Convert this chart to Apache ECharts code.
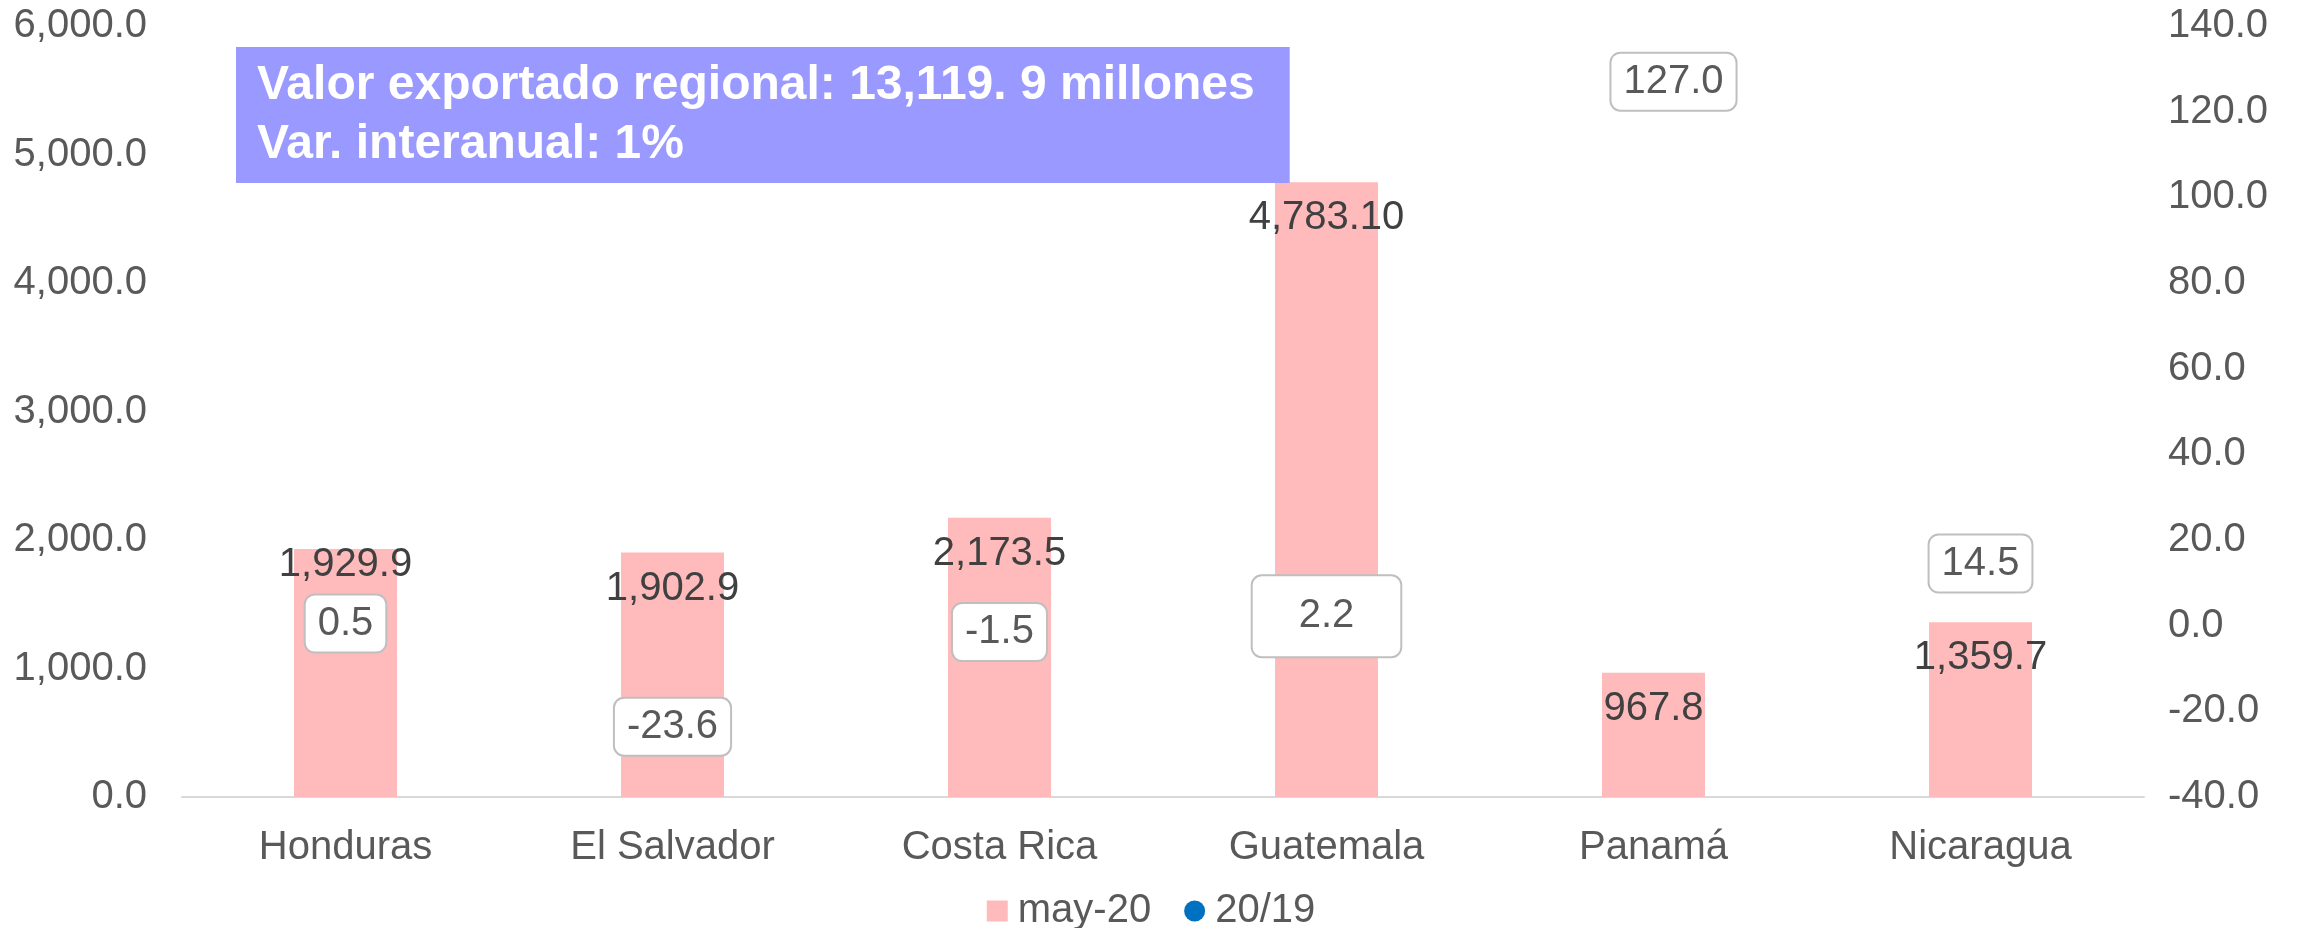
<!DOCTYPE html>
<html>
<head>
<meta charset="utf-8">
<script src="https://cdn.jsdelivr.net/npm/echarts@6/dist/echarts.min.js"></script>
<style>
  html, body { margin: 0; padding: 0; background: #fff; }
  #chart { width: 2302px; height: 928px; }
</style>
</head>
<body>
<div id="chart"></div>
<script>
const paises = ['Honduras', 'El Salvador', 'Costa Rica', 'Guatemala', 'Panamá', 'Nicaragua']
const valorMay20 = [1929.9, 1902.9, 2173.5, 4783.1, 967.8, 1359.7]
const var2019 = [0.5, -23.6, -1.5, 2.2, 127.0, 14.5]
const titulo = 'Valor exportado regional: 13,119. 9 millones\nVar. interanual: 1%'

const myChart = echarts.init(document.getElementById('chart'))
const font = 'Liberation Sans, Arial, sans-serif'

const fmt = (v, d) => v.toLocaleString('en-US', { minimumFractionDigits: d, maximumFractionDigits: d })

const barData = valorMay20.map((v, i) => {
  const item = { value: v }
  // Honduras label sits almost on the bar top
  if (i === 0) item.label = { offset: [0, -20] }
  return item
})

const varData = var2019.map((v, i) => {
  const item = { value: v }
  if (i === 3) item.label = { padding: [20, 46] }
  if (i === 4) item.label = { offset: [20, 0] }
  return item
})

const option = {
  animation: false,
  textStyle: { fontFamily: font },
  title: {
    text: titulo,
    left: 236,
    top: 47,
    padding: [9, 35, 9, 21],
    backgroundColor: '#9999FF',
    textStyle: {
      color: '#fff',
      fontSize: 48,
      fontWeight: 'bold',
      lineHeight: 59,
      fontFamily: font,
    },
  },
  legend: {
    bottom: -8,
    left: 'center',
    itemGap: 33,
    itemWidth: 21,
    itemHeight: 21,
    textStyle: { fontSize: 40, color: '#595959', fontFamily: font, padding: [0, 0, 0, 5] },
    data: [
      { name: 'may-20', icon: 'rect' },
      { name: '20/19', icon: 'circle', itemStyle: { color: '#0070C0' } },
    ],
  },
  grid: {
    left: 182,
    right: 158,
    top: 26,
    bottom: 131,
  },
  xAxis: {
    type: 'category',
    data: paises,
    axisTick: { show: false },
    axisLine: { lineStyle: { color: '#D9D9D9', width: 2 } },
    axisLabel: { color: '#595959', fontSize: 40, margin: 31, fontFamily: font },
  },
  yAxis: [
    {
      type: 'value',
      min: 0,
      max: 6000,
      interval: 1000,
      splitLine: { show: false },
      axisLine: { show: false },
      axisLabel: {
        color: '#595959',
        fontSize: 40,
        margin: 35,
        fontFamily: font,
        formatter: (v) => fmt(v, 1),
      },
    },
    {
      type: 'value',
      min: -40,
      max: 140,
      interval: 20,
      splitLine: { show: false },
      axisLine: { show: false },
      axisLabel: {
        color: '#595959',
        fontSize: 40,
        margin: 24,
        fontFamily: font,
        formatter: (v) => fmt(v, 1),
      },
    },
  ],
  series: [
    {
      name: 'may-20',
      type: 'bar',
      data: barData,
      barWidth: '31.5%',
      itemStyle: { color: '#FFBBBB' },
      label: {
        show: true,
        position: 'insideTop',
        distance: 16,
        color: '#404040',
        fontSize: 40,
        fontFamily: font,
        formatter: (p) => (p.dataIndex === 3 ? fmt(p.value, 2) : fmt(p.value, 1)),
      },
    },
    {
      name: '20/19',
      type: 'scatter',
      yAxisIndex: 1,
      data: varData,
      symbolSize: 1,
      itemStyle: { color: 'rgba(0,0,0,0)', opacity: 1 },
      label: {
        show: true,
        position: 'inside',
        color: '#595959',
        fontSize: 40,
        fontFamily: font,
        backgroundColor: '#fff',
        borderColor: '#BFBFBF',
        borderWidth: 2,
        borderRadius: 9,
        padding: [8, 12],
        formatter: (p) => fmt(p.value, 1),
      },
      z: 5,
    },
  ],
}

myChart.setOption(option)
</script>
</body>
</html>
